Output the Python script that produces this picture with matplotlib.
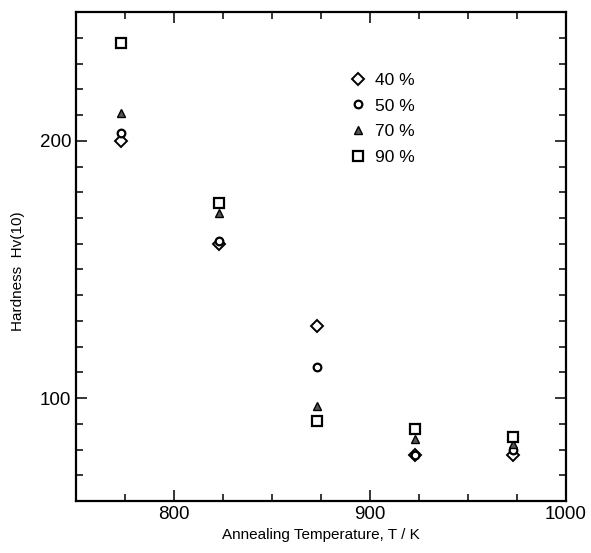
import matplotlib
matplotlib.use("Agg")
import matplotlib.pyplot as plt
from matplotlib.ticker import MultipleLocator

plt.rcParams['font.family'] = ['Liberation Sans', 'DejaVu Sans']

temps = [773, 823, 873, 923, 973]
hv_40 = [200, 160, 128, 78, 78]
hv_50 = [203, 161, 112, 78, 80]
hv_70 = [211, 172, 97, 84, 82]
hv_90 = [238, 176, 91, 88, 85]
labels = ["40 %", "50 %", "70 %", "90 %"]

fig = plt.figure(figsize=(5.91, 5.53), dpi=100)
ax = fig.add_axes([0.1286, 0.094, 0.8291, 0.884])

ax.plot(temps, hv_40, linestyle='none', marker='D', ms=6, mfc='white', mec='black', mew=1.4, label=labels[0])
ax.plot(temps, hv_50, linestyle='none', marker='o', ms=5.5, mfc='white', mec='black', mew=1.6, label=labels[1])
ax.plot(temps, hv_70, linestyle='none', marker='^', ms=5.5, mfc='#555555', mec='black', mew=1.0, label=labels[2])
ax.plot(temps, hv_90, linestyle='none', marker='s', ms=6.5, mfc='white', mec='black', mew=1.6, label=labels[3])

ax.set_xlim(750, 1000)
ax.set_ylim(60, 250)
ax.xaxis.set_major_locator(MultipleLocator(100))
ax.xaxis.set_minor_locator(MultipleLocator(25))
ax.yaxis.set_major_locator(MultipleLocator(100))
ax.yaxis.set_minor_locator(MultipleLocator(10))
ax.tick_params(which='both', direction='in', top=True, right=True, width=1.1, labelsize=13.5)
ax.tick_params(which='major', length=8)
ax.tick_params(which='minor', length=5)
for s in ax.spines.values():
    s.set_linewidth(1.6)

ax.set_xlabel("Annealing Temperature, T / K", fontsize=11, labelpad=4)
ax.set_ylabel("Hardness  Hv(10)", fontsize=11)
ax.yaxis.set_label_coords(-0.104, 0.47)

leg = ax.legend(loc='upper left', bbox_to_anchor=(0.558, 0.876), frameon=False,
                fontsize=12.5, handlelength=1.0, handletextpad=0.5,
                labelspacing=0.6, borderpad=0, borderaxespad=0)

fig.savefig("out.png", dpi=100)
